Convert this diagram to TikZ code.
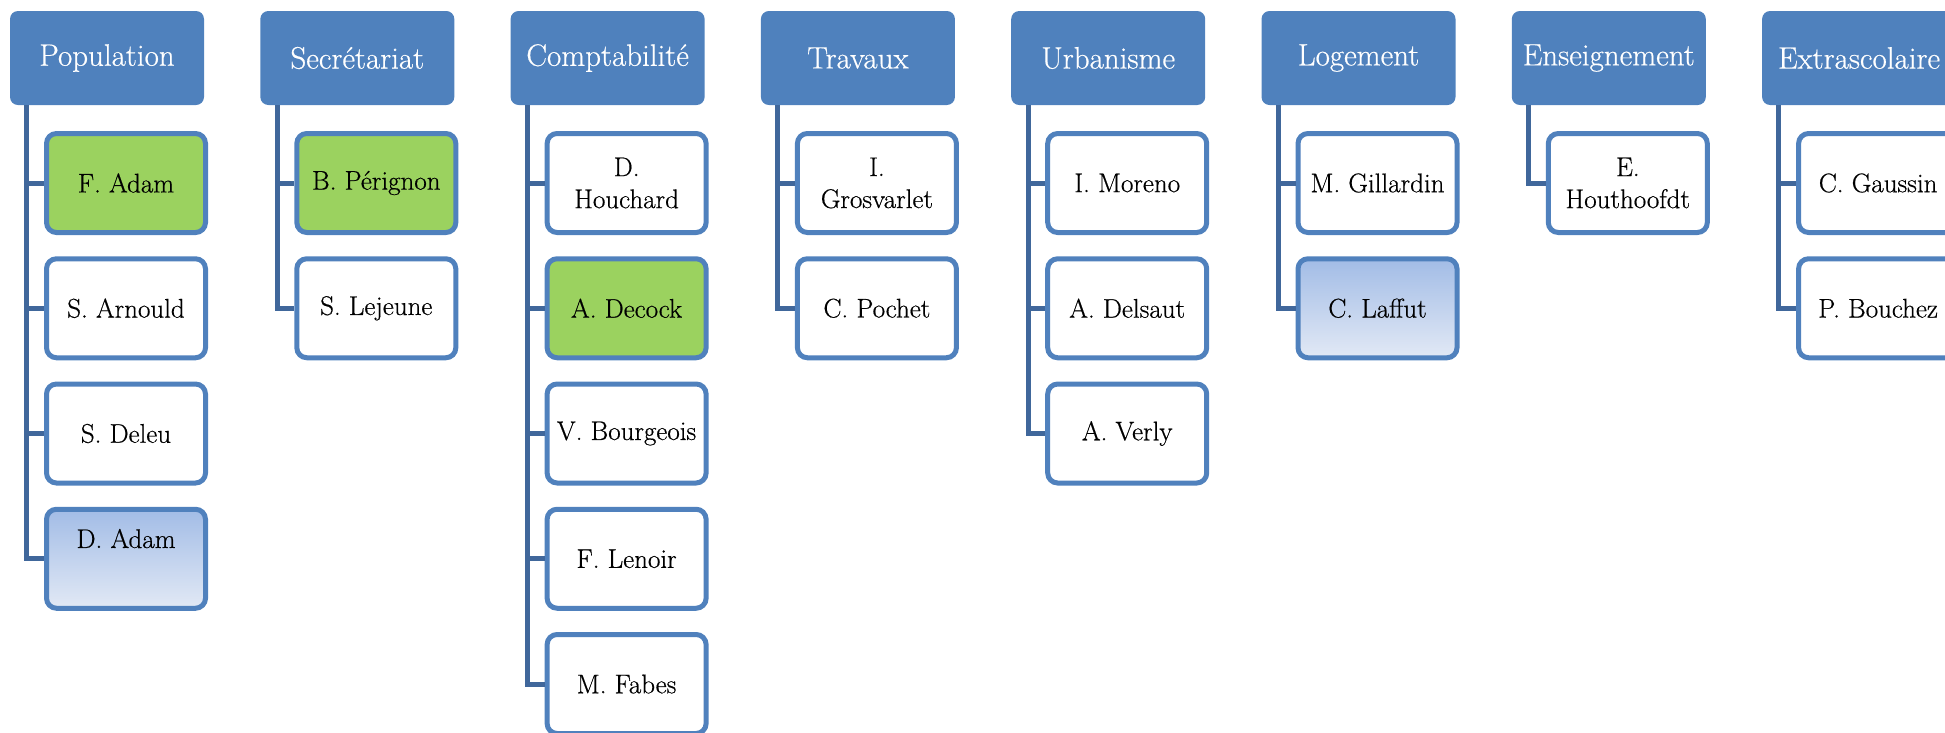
\documentclass[tikz,border=0pt]{standalone}
\usepackage{fontspec}
\newfontfamily\cfont{Latin Modern Roman}[FakeBold=0.5]
\usetikzlibrary{calc}
\definecolor{hblue}{HTML}{4F81BD}
\definecolor{bblue}{HTML}{5081BD}
\definecolor{cblue}{HTML}{40679B}
\definecolor{gfill}{HTML}{9BD25F}
\definecolor{gtop}{HTML}{A2BCE6}
\definecolor{gbot}{HTML}{E2E9F5}
\tikzset{
  head/.style={fill=hblue, rounded corners=8pt, minimum width=194pt, minimum height=94pt,
    inner sep=0pt, text=white, font=\cfont\fontsize{31}{36}\selectfont},
  pers/.style={draw=bblue, line width=5pt, fill=white, rounded corners=10pt,
    minimum width=159pt, minimum height=99pt, inner sep=0pt, align=center,
    font=\cfont\fontsize{27}{32}\selectfont},
  grn/.style={pers, fill=gfill},
  grad/.style={pers, top color=gtop, bottom color=gbot},
  conn/.style={draw=cblue, line width=5pt}
}
\begin{document}
\begin{tikzpicture}[x=1pt,y=-1pt]
\useasboundingbox (0,0) rectangle (1945,732);
\clip (0,0) rectangle (1945,732);
% headers
\node[head] (h0) at (107,58) {Population};
\node[head] (h1) at (357.3,58) {Secrétariat};
\node[head] (h2) at (607.6,58) {Comptabilité};
\node[head] (h3) at (857.9,58) {Travaux};
\node[head] (h4) at (1108.2,58) {Urbanisme};
\node[head] (h5) at (1358.5,58) {Logement};
\node[head] (h6) at (1608.8,58) {Enseignement};
\node[head] (h7) at (1859.1,58) {Extrascolaire};
% Population
\node[grn]  (c0a) at (126,183) {F. Adam};
\node[pers] (c0b) at (126,308.25) {S. Arnould};
\node[pers] (c0c) at (126,433.5) {S. Deleu};
\node[grad, text height=18.4pt, text depth=40pt] (c0d) at (126,558.75) {D. Adam};
% Secretariat
\node[grn]  (c1a) at (376.3,183) {B. Pérignon};
\node[pers] (c1b) at (376.3,308.25) {S. Lejeune};
% Comptabilite
\node[pers] (c2a) at (626.6,183) {D.\\Houchard};
\node[grn]  (c2b) at (626.6,308.25) {A. Decock};
\node[pers] (c2c) at (626.6,433.5) {V. Bourgeois};
\node[pers] (c2d) at (626.6,558.75) {F. Lenoir};
\node[pers] (c2e) at (626.6,684) {M. Fabes};
% Travaux
\node[pers] (c3a) at (876.9,183) {I.\\Grosvarlet};
\node[pers] (c3b) at (876.9,308.25) {C. Pochet};
% Urbanisme
\node[pers] (c4a) at (1127.2,183) {I. Moreno};
\node[pers] (c4b) at (1127.2,308.25) {A. Delsaut};
\node[pers] (c4c) at (1127.2,433.5) {A. Verly};
% Logement
\node[pers] (c5a) at (1377.5,183) {M. Gillardin};
\node[grad] (c5b) at (1377.5,308.25) {C. Laffut};
% Enseignement
\node[pers] (c6a) at (1627.8,183) {E.\\Houthoofdt};
% Extrascolaire
\node[pers] (c7a) at (1878.1,183) {C. Gaussin};
\node[pers] (c7b) at (1878.1,308.25) {P. Bouchez};
% connector tops
\foreach \i in {0,...,7} {\coordinate (t\i) at ($(h\i.south west)+(17,0)$);}
\draw[conn] (t0) |- (c0a) (t0) |- (c0b) (t0) |- (c0c) (t0) |- (c0d);
\draw[conn] (t1) |- (c1a) (t1) |- (c1b);
\draw[conn] (t2) |- (c2a) (t2) |- (c2b) (t2) |- (c2c) (t2) |- (c2d) (t2) |- (c2e);
\draw[conn] (t3) |- (c3a) (t3) |- (c3b);
\draw[conn] (t4) |- (c4a) (t4) |- (c4b) (t4) |- (c4c);
\draw[conn] (t5) |- (c5a) (t5) |- (c5b);
\draw[conn] (t6) |- (c6a);
\draw[conn] (t7) |- (c7a) (t7) |- (c7b);
\end{tikzpicture}
\end{document}
